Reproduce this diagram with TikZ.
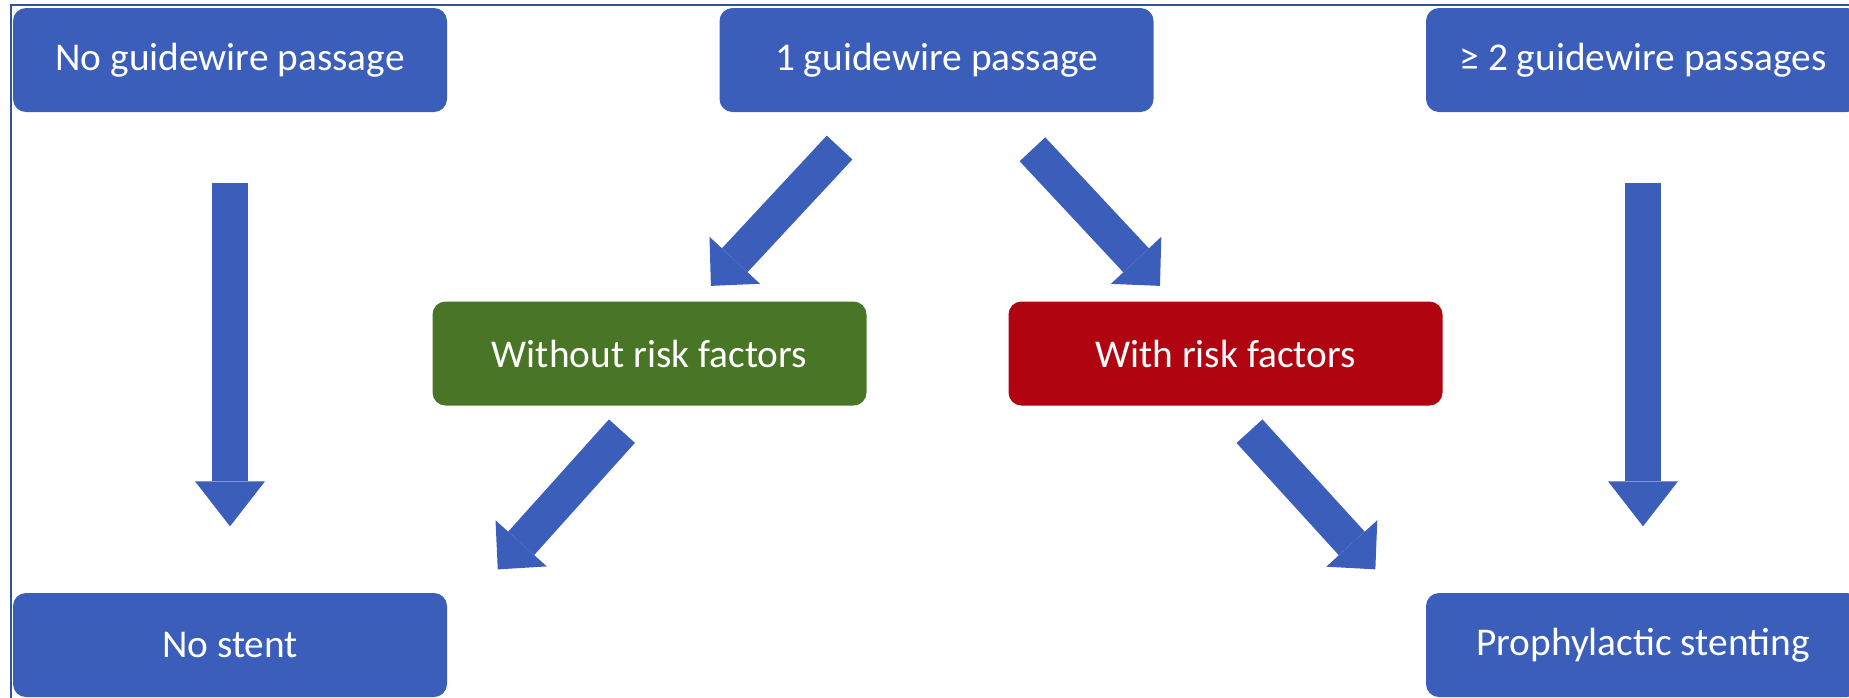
\documentclass[tikz,border=0pt]{standalone}
\usepackage{fontspec}
\setmainfont{Carlito}
\usetikzlibrary{arrows.meta}
\definecolor{boxblue}{RGB}{59,94,187}
\definecolor{boxgreen}{RGB}{72,118,38}
\definecolor{boxred}{RGB}{176,4,16}
\definecolor{frameblue}{RGB}{47,85,151}

\begin{document}
\begin{tikzpicture}[x=0.1mm, y=-0.1mm,
    box/.style={fill=boxblue, rounded corners=1.3mm, minimum width=43.4mm, minimum height=10.4mm,
        inner sep=0pt, text=white, font=\fontsize{11.2}{13}\selectfont},
    fat/.style={boxblue, line width=3.6mm, -{Triangle[length=4.5mm, width=7mm, line width=0pt]}},
    fatd/.style={boxblue, line width=3.5mm, -{Triangle[length=3.5mm, width=6.9mm, line width=0pt]}}]

    \useasboundingbox (0,0) rectangle (1849,697);
    \draw [frameblue, line width=0.2mm] (11,5) rectangle (1900,760);

    \node[box] (a) at (230, 60) {No guidewire passage};
    \node[box] (b) at (936.5, 60) {1 guidewire passage};
    \node[box] (c) at (1643, 60) {≥ 2 guidewire passages};
    \node[box, fill=boxgreen] (d) at (649.5, 353.5) {Without risk factors};
    \node[box, fill=boxred] (e) at (1225.5, 353.5) {With risk factors};
    \node[box] (f) at (230, 645) {No stent};
    \node[box] (g) at (1643, 645) {Prophylactic stenting};

    \draw [fat, shorten <=7mm, shorten >=6.6mm] (a) -- (f);
    \draw [fat, shorten <=7mm, shorten >=6.6mm] (c) -- (g);
    \draw [fatd, shorten <=4.76mm, shorten >=2.04mm] ([xshift=-6.45mm]b.south) -- ([xshift=4.75mm]d.north);
    \draw [fatd, shorten <=5mm, shorten >=2.04mm] ([xshift=6.18mm]b.south) -- ([xshift=-5.16mm]e.north);
    \draw [fatd, shorten <=3.35mm, shorten >=3.08mm] ([xshift=-0.52mm]d.south) -- ([xshift=2.95mm]f.north east);
    \draw [fatd, shorten <=3.38mm, shorten >=3.11mm] ([xshift=0.12mm]e.south) -- ([xshift=-2.9mm]g.north west);

\end{tikzpicture}
\end{document}
